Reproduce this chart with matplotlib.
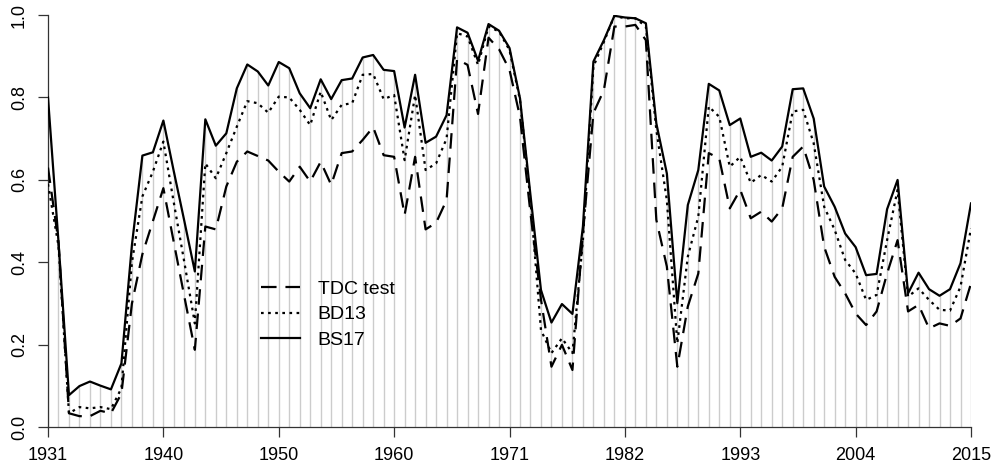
import numpy as np
import matplotlib
matplotlib.use("Agg")
import matplotlib.pyplot as plt

plt.rcParams['font.family'] = ['Liberation Sans', 'DejaVu Sans']

# tick labels shown under every 11th observation
tick_labels = ['1931', '1940', '1950', '1960', '1971', '1982', '1993', '2004', '2015']

bs17 = [0.80, 0.45, 0.078, 0.10, 0.111, 0.101, 0.092, 0.155, 0.442, 0.659, 0.667, 0.744,
        0.62, 0.50, 0.378, 0.747, 0.683, 0.713, 0.822, 0.880, 0.863, 0.829, 0.886,
        0.871, 0.81, 0.774, 0.844, 0.796, 0.842, 0.846, 0.897, 0.903, 0.867, 0.864,
        0.727, 0.855, 0.69, 0.705, 0.757, 0.97, 0.957, 0.889, 0.978, 0.962, 0.92,
        0.798, 0.563, 0.333, 0.254, 0.299, 0.275, 0.487, 0.887, 0.939, 0.998, 0.994,
        0.992, 0.98, 0.737, 0.616, 0.301, 0.539, 0.624, 0.833, 0.817, 0.733, 0.749,
        0.656, 0.666, 0.647, 0.681, 0.82, 0.822, 0.749, 0.584, 0.535, 0.47, 0.437,
        0.369, 0.372, 0.529, 0.6, 0.325, 0.375, 0.335, 0.319, 0.335, 0.398, 0.543]

bd13 = [0.59, 0.44, 0.034, 0.049, 0.046, 0.049, 0.044, 0.095, 0.40, 0.56, 0.62, 0.693,
        0.544, 0.40, 0.252, 0.64, 0.604, 0.665, 0.729, 0.791, 0.786, 0.763, 0.802,
        0.80, 0.77, 0.733, 0.814, 0.745, 0.782, 0.786, 0.855, 0.857, 0.796, 0.806,
        0.648, 0.806, 0.624, 0.64, 0.70, 0.956, 0.948, 0.879, 0.972, 0.96, 0.915,
        0.794, 0.55, 0.236, 0.18, 0.216, 0.18, 0.454, 0.875, 0.935, 0.998, 0.992,
        0.992, 0.972, 0.721, 0.551, 0.204, 0.414, 0.511, 0.778, 0.753, 0.632, 0.656,
        0.593, 0.612, 0.596, 0.632, 0.766, 0.77, 0.689, 0.535, 0.479, 0.406, 0.373,
        0.309, 0.321, 0.454, 0.576, 0.317, 0.337, 0.309, 0.285, 0.283, 0.341, 0.483]

tdc = [0.63, 0.45, 0.034, 0.027, 0.027, 0.040, 0.034, 0.082, 0.30, 0.42, 0.50, 0.58,
       0.448, 0.317, 0.188, 0.487, 0.48, 0.584, 0.644, 0.669, 0.658, 0.647, 0.62,
       0.596, 0.632, 0.596, 0.644, 0.588, 0.665, 0.669, 0.697, 0.728, 0.66, 0.656,
       0.515, 0.656, 0.48, 0.496, 0.551, 0.893, 0.879, 0.76, 0.945, 0.917, 0.867,
       0.753, 0.519, 0.31, 0.147, 0.2, 0.139, 0.47, 0.762, 0.818, 0.972, 0.972,
       0.976, 0.939, 0.503, 0.39, 0.147, 0.293, 0.373, 0.665, 0.652, 0.531, 0.576,
       0.507, 0.523, 0.499, 0.531, 0.656, 0.681, 0.6, 0.438, 0.365, 0.325, 0.276,
       0.248, 0.281, 0.373, 0.454, 0.281, 0.297, 0.24, 0.252, 0.246, 0.264, 0.349]

x = np.arange(len(bs17))

fig = plt.figure(figsize=(9.92, 4.69), dpi=100)
ax = fig.add_axes([48 / 992, 1 - 427.3 / 469, 923 / 992, 412.3 / 469])

# grey spikes up to the top series
ax.vlines(x, 0, bs17, color='#cccccc', lw=1.0, zorder=1)

ax.plot(x, tdc, color='black', lw=1.6, ls=(0, (7, 4)), label='TDC test', zorder=3)
ax.plot(x, bd13, color='black', lw=1.6, ls=(0, (1.2, 2.0)), label='BD13', zorder=3)
ax.plot(x, bs17, color='black', lw=1.6, ls='-', label='BS17', zorder=3)

ax.set_xlim(0, len(x) - 1)
ax.set_ylim(0, 1)
ax.set_xticks(np.arange(0, len(x), 11))
ax.set_xticklabels(tick_labels)
ax.set_yticks([0, 0.2, 0.4, 0.6, 0.8, 1.0])
ax.set_yticklabels(['0.0', '0.2', '0.4', '0.6', '0.8', '1.0'], rotation=90, va='center')
ax.tick_params(labelsize=13, length=7, width=0.9, color='#333333', pad=7.5)

for side in ['top', 'right']:
    ax.spines[side].set_visible(False)
for side in ['left', 'bottom']:
    ax.spines[side].set_color('#333333')
    ax.spines[side].set_linewidth(0.9)

ax.legend(loc='upper left', bbox_to_anchor=(0.231, 0.357), frameon=False, fontsize=14,
          handlelength=2.0, handletextpad=0.9, labelspacing=0.42, borderpad=0, borderaxespad=0)

fig.savefig('out.png', dpi=100)
